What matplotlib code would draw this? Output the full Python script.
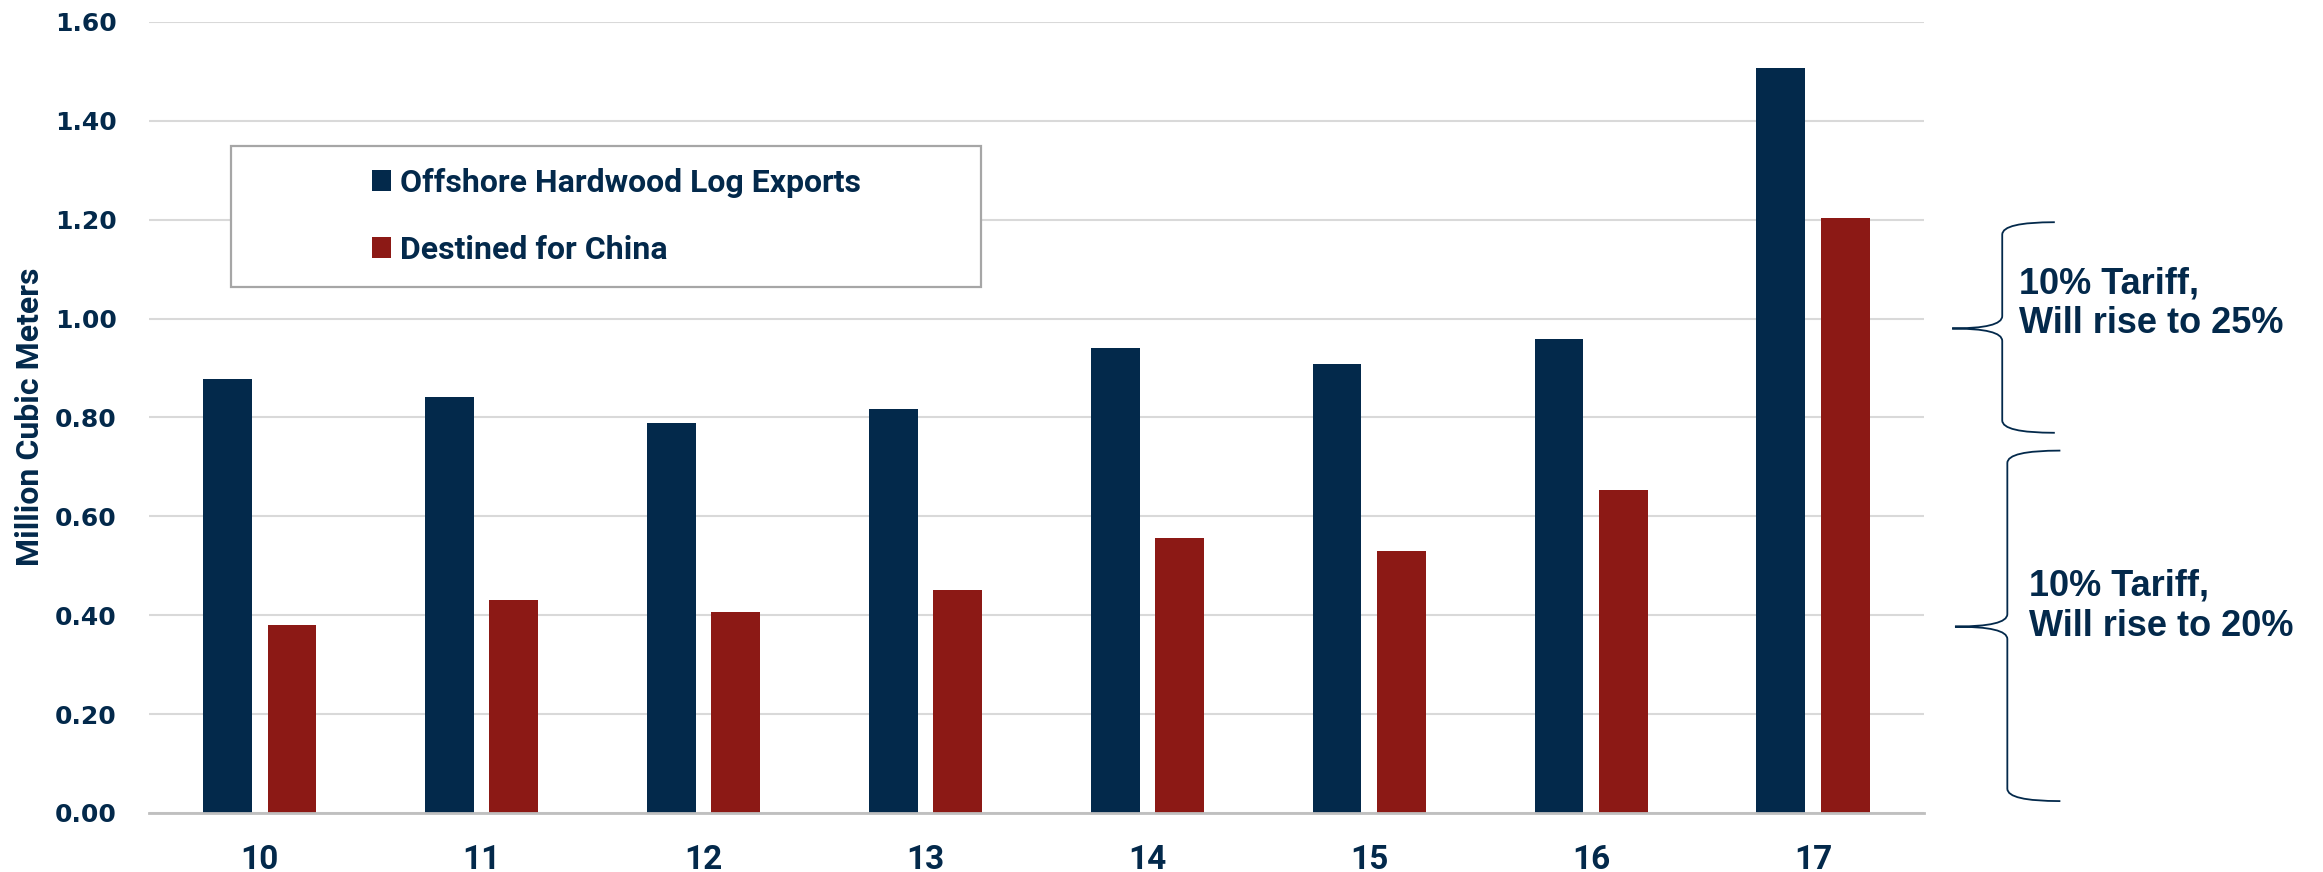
import numpy as np
import matplotlib
matplotlib.use('Agg')
import matplotlib.pyplot as plt
from matplotlib.path import Path
from matplotlib.patches import PathPatch, Rectangle

years = ['10', '11', '12', '13', '14', '15', '16', '17']
exports = [0.877, 0.842, 0.788, 0.818, 0.941, 0.908, 0.959, 1.507]
china = [0.380, 0.431, 0.407, 0.452, 0.557, 0.530, 0.653, 1.204]
series_names = ['Offshore Hardwood Log Exports', 'Destined for China']
notes = ['10% Tariff,\nWill rise to 25%', '10% Tariff,\nWill rise to 20%']

navy = '#03294B'
red = '#8C1915'
narrow = ['Liberation Sans Narrow', 'Roboto', 'DejaVu Sans']
arial = ['Liberation Sans', 'DejaVu Sans']

fig = plt.figure(figsize=(23.23, 8.72), dpi=100)
ax = fig.add_axes([0.0641, 0.0677, 0.7641, 0.9071])

x = np.arange(len(years))
w = 0.22
b1 = ax.bar(x - 0.145, exports, w, color=navy, zorder=3, label=series_names[0])
b2 = ax.bar(x + 0.145, china, w, color=red, zorder=3, label=series_names[1])

ax.set_xlim(-0.5, 7.5)
ax.set_ylim(0, 1.6)
ax.set_yticks(np.arange(0, 1.61, 0.2))
ax.set_yticklabels(['%.2f' % v for v in np.arange(0, 1.61, 0.2)])
ax.set_xticks(x)
ax.set_xticklabels(years)
ax.grid(axis='y', color='#D9D9D9', linewidth=1.5, zorder=0)
ax.set_axisbelow(True)
for s in ['top', 'right', 'left']:
    ax.spines[s].set_visible(False)
ax.spines['bottom'].set_color('#BFBFBF')
ax.spines['bottom'].set_linewidth(2)
ax.spines['bottom'].set_zorder(4)
ax.tick_params(length=0)
ax.tick_params(axis='y', pad=23)
ax.tick_params(axis='x', pad=22)
for t in ax.get_yticklabels():
    t.set_fontfamily('DejaVu Sans')
    t.set_fontweight('bold')
    t.set_fontsize(18)
    t.set_color(navy)
for t in ax.get_xticklabels():
    t.set_fontfamily(narrow)
    t.set_fontweight('bold')
    t.set_fontsize(24)
    t.set_color(navy)

fig.text(0.013, 1 - 417 / 872, 'Million Cubic Meters', rotation=90, ha='center', va='center',
         fontsize=23, fontweight='bold', color=navy, family=narrow)

# legend box, white so the gridlines stop at it
box = Rectangle((0.0994, 0.6709), 0.3229, 0.1617, transform=fig.transFigure,
                facecolor='white', edgecolor='#A6A6A6', linewidth=1.6, zorder=5, clip_on=False)
ax.add_patch(box)
leg = ax.legend(loc='center left', bbox_to_anchor=(0.160, 0.752), bbox_transform=fig.transFigure,
                frameon=False, handlelength=0.6, handleheight=0.6, handletextpad=0.3,
                labelspacing=1.15, borderpad=0, borderaxespad=0,
                prop={'family': narrow, 'weight': 'bold', 'size': 23})
leg.set_zorder(6)
for t in leg.get_texts():
    t.set_color(navy)


def brace(x_line, x_tip, x_end, y_top, y_bot, y_tip, r=0.025):
    verts = [(x_end, y_top), (x_line, y_top), (x_line, y_top - r),
             (x_line, y_tip + r), (x_line, y_tip), (x_tip, y_tip),
             (x_line, y_tip), (x_line, y_tip - r),
             (x_line, y_bot + r), (x_line, y_bot), (x_end, y_bot)]
    codes = [Path.MOVETO, Path.CURVE3, Path.CURVE3,
             Path.LINETO, Path.CURVE3, Path.CURVE3,
             Path.CURVE3, Path.CURVE3,
             Path.LINETO, Path.CURVE3, Path.CURVE3]
    p = PathPatch(Path(verts, codes), facecolor='none', edgecolor=navy, linewidth=1.3,
                  clip_on=False, transform=ax.transData)
    ax.add_patch(p)


brace(7.853, 7.627, 8.09, 1.195, 0.769, 0.98)
brace(7.876, 7.64, 8.115, 0.733, 0.024, 0.377)
ax.text(7.93, 1.03, notes[0], ha='left', va='center', fontsize=26, fontweight='bold',
        color=navy, family=arial, linespacing=1.2, clip_on=False)
ax.text(7.975, 0.419, notes[1], ha='left', va='center', fontsize=26, fontweight='bold',
        color=navy, family=arial, linespacing=1.2, clip_on=False)

fig.savefig('out.png', dpi=100, facecolor='white')
